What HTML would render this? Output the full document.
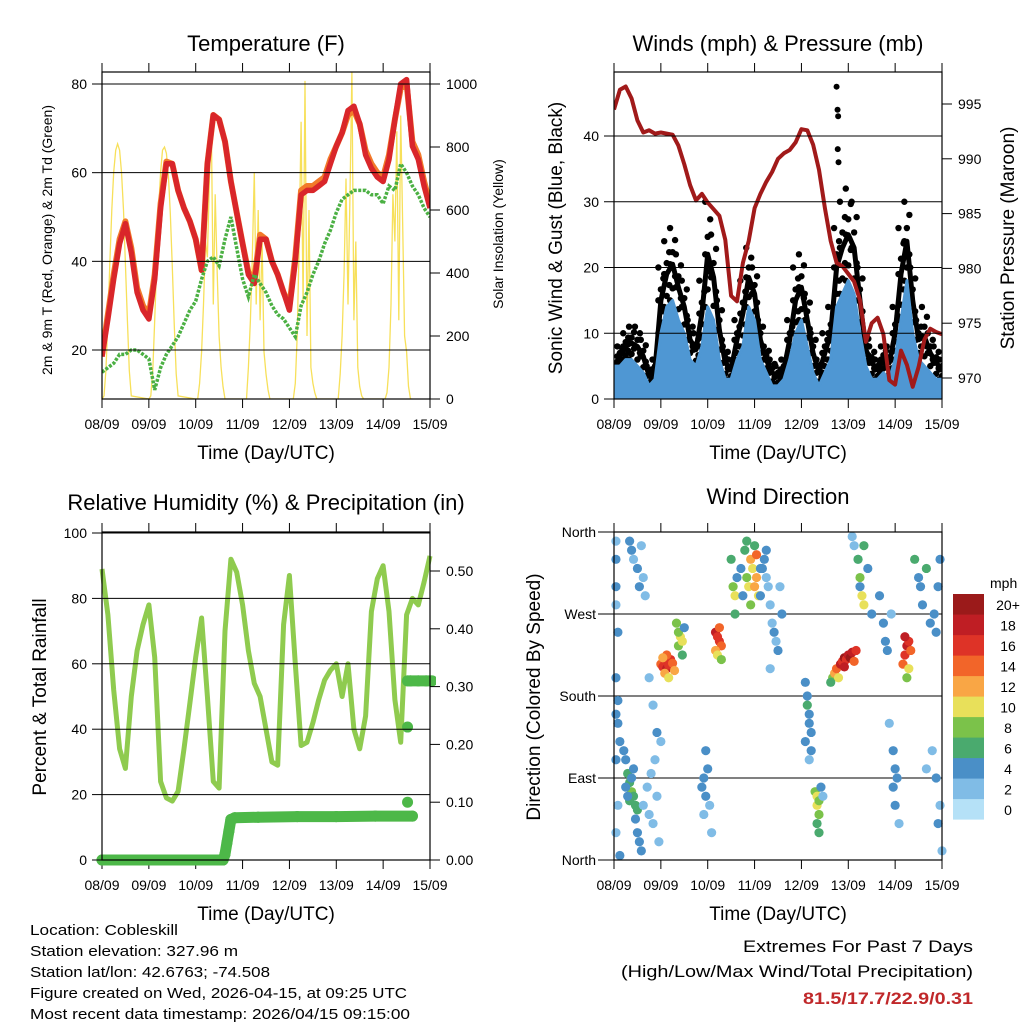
<!DOCTYPE html>
<html><head><meta charset="utf-8"><style>
html,body{margin:0;padding:0;background:#fff}
svg{display:block;font-family:"Liberation Sans",sans-serif}
</style></head><body>
<svg id="chart" width="1024" height="1024" viewBox="0 0 1024 1024"></svg>
<script>
// ---------- DATA ----------
const hours3 = [0,3,6,9,12,15,18,21,24,27,30,33,36,39,42,45,48,51,54,57,60,63,66,69,72,75,78,81,84,87,90,93,96,99,102,105,108,111,114,117,120,123,126,129,132,135,138,141,144,147,150,153,156,159,162,165,168];
const dayLabels = ["08/09","09/09","10/09","11/09","12/09","13/09","14/09","15/09"];
const temp2m = [18.5,27,36,44,48.5,42,33,29,27,36,52,62,62,56,52,49,45,38,62,73,72,67,58,51,44,37,35,45,45,40,37,33,29,40,55,56,56,57,58,62,66,69,74,75,71,64,61,59,58,63,72,80,81,66,63,57,52];
const temp9m = [19,28,37,45,49,43,34,30,28,37,53,62.5,62,56,52,49,45,38,62,73,72,67,58,51,44,37.5,36,46,45,40,37,33,30,41,56,57,57,58,59,63,66,69,73,74,71,65,62,60,59,64,72,79,80,67,64,58,53];
const dewPt = [15,16,17,19,19,20,20,19,18,11,16,19,21,23,26,29,31,36,40,41,39,45,50,43,36,32,37,35,33,30,28,27,25,23,30,33,37,40,44,47,51,54,55,56,56,56,55,55,53,57,56,62,60,57,55,52,50];
const solarDayShapes = [
 [0,10,90,250,430,600,720,790,810,790,720,600,430,250,90,10],
 [0,10,90,250,430,600,720,790,800,780,710,590,420,240,80,10],
 [0,0,50,150,300,500,450,700,880,300,650,400,200,100,40,0],
 [0,0,0,100,250,450,720,300,600,250,500,150,80,30,0,0],
 [0,0,0,50,200,500,880,300,1010,200,600,100,50,20,0,0],
 [0,0,80,200,400,700,300,650,1040,250,500,100,40,10,0,0],
 [0,0,20,100,300,650,500,850,250,900,550,200,150,40,0,0]
];
const pressure = [994.5,996.3,996.6,995.5,993.5,992.4,992.6,992.3,992.4,992.3,992.2,991.2,989.5,987.6,986.2,986.8,986,985.4,984.8,982.6,977.5,977,980.5,982.5,985.5,986.8,987.9,988.8,990,990.5,990.8,991.5,992.7,992.6,991.3,989,985.5,982.5,980.5,980.2,979.5,978.8,977.1,973.3,975,975.5,974,969.8,969.4,972.5,971.2,969.2,971,973.5,974.5,974.2,974];
const windSonic = [5,5,6,6,5,4,2,3,10,14,15,12,10,6,5,8,14,12,6,3,3,6,8,14,12,6,4,2,2,3,6,10,12,8,4,2,4,6,14,16,18,16,10,5,3,3,4,3,6,12,18,10,6,5,4,3,3];
const windGust = [5,8,10,11,11,9,5,6,20,24,26,22,18,12,10,18,30,25,15,8,6,12,18,23,20,12,8,6,5,6,12,20,22,16,10,6,10,14,26,30,32,30,20,10,8,6,8,8,14,26,30,20,12,14,10,8,6];
const gustOutlierHours = [114,114.5,114.8,114.6,115];
const gustOutlierVals = [47.5,44,43,38,36];
const rh = [89,75,52,34,28,50,64,72,78,62,24,19,18,21,34,48,62,74,50,24,22,70,92,88,78,64,54,50,40,30,29,72,87,60,35,36,42,49,55,58,60,50,60,40,34,44,76,86,90,76,49,36,75,80,78,85,93];
const precipHours = [0,20,40,60,62,63,64,65,66,68,80,100,120,140,159];
const precipVals = [0,0,0,0,0,0.01,0.03,0.05,0.07,0.073,0.074,0.075,0.075,0.076,0.076];
const precipLateHours = [156.5,156.5,156.5,158,162,166,169];
const precipLateVals = [0.10,0.23,0.31,0.31,0.31,0.31,0.31];
const wdHour = [1,1,1,1,2,1,2,1,2,3,1,2,1,3, 5,6,7,8,9,10,8,11,12,6,7,9,12,13,14,11,10, 8,10,12,13,9,14,15,16, 15,17,18,19,20,21,22,23,18,20,22,24,
 24,25,26,27,28,29,30,26,27,31,25,28, 33,34,35,33,35,36,32, 45,46,47,48,49,47,46,50, 52,53,54,55,52,54,53,55,
 60,61,62,62,63,65,66,67,68,69,70,71,72,73,74,70,72,73,75,75,68, 77,78,79,80,81,82,83,84,85,78,76,80,86,
 98,99,99,100,100,101,98,101,100, 103,104,104,105,105,104,106,107,105, 122,123,125,
 112,113,114,116,117,118,119,120,121,122,124,123,115,111,118, 125,126,127,128,126,130,132,128,
 136,138,139,140,142,143,144,145,143,144,146,141, 148,149,150,151,151,150,149,152,
 154,156,157,158,160,162,164,166,167,165,163,165,166,168,167,160];
const wdDir = [350,330,300,280,250,200,175,160,150,130,110,60,30,5, 120,110,95,85,75,70,65,60,55,80,70,90,30,20,10,45,100, 350,330,320,300,340,345,310,290, 60,80,50,95,40,110,70,20,200,170,140,130,
 215,212,218,210,214,220,216,205,225,208,222,200, 235,245,240,250,225,255,260, 80,90,70,100,60,120,50,30, 250,245,240,235,230,255,225,220,
 330,300,290,270,310,320,290,340,310,300,330,320,300,310,290,280,345,335,290,320,350, 330,310,300,280,260,250,240,230,300,340,320,210,270,
 195,180,170,160,150,140,130,120,110, 75,70,60,65,50,40,80,70,30, 355,345,330,
 200,205,210,215,218,222,220,225,222,228,230,218,200,195,212, 330,310,290,280,300,320,270,345,
 290,260,240,230,270,120,100,90,80,60,40,150, 215,225,235,240,210,200,245,230,
 330,310,300,280,320,260,270,300,330,250,120,90,40,10,60,100];
const wdSpd = [2,3,3,2,3,3,3,4,4,4,3,2,2,3, 4,4,5,6,7,6,5,6,6,4,4,4,3,3,4,4,3, 3,2,4,3,3,2,2,2, 2,1,1,2,2,1,1,1,2,1,3,2,
 14,16,15,18,16,15,14,12,13,12,11,10, 8,10,9,7,6,4,8, 4,4,3,3,2,4,2,2, 18,16,15,13,11,14,10,8,
 6,8,10,6,4,4,3,6,8,10,12,10,11,12,9,8,6,13,4,4,6, 3,2,2,2,2,3,2,3,2,3,4,2,3,
 4,4,6,4,4,4,3,3,2, 8,10,9,8,7,6,3,2,6, 1,2,2,
 8,12,14,18,16,20,16,18,20,17,16,14,10,6,18, 6,8,10,9,4,4,3,6,
 4,3,4,3,2,4,4,3,4,3,2,1, 14,16,18,15,10,8,17,14,
 6,3,4,4,6,4,3,4,3,4,2,4,4,2,2,2];
const speedColors = ["#b5e1f7","#80bce6","#4a8fc7","#4aaa6e","#7bc24a","#e8e05a","#f9a645","#f26529","#de3327","#bf1e24","#9b1a1a"];
const speedLabels = ["0","2","4","6","8","10","12","14","16","18","20+"];
const tempTicks=[20,40,60,80], solarTicks=[0,200,400,600,800,1000];
const windTicks=[0,10,20,30,40], presTicks=[970,975,980,985,990,995];
const rhTicks=[0,20,40,60,80,100], precipTicks=[0,0.1,0.2,0.3,0.4,0.5];
const dirTicks=[0,90,180,270,360], dirLabels=["North","East","South","West","North"];

// ---------- HELPERS ----------
const svg=document.getElementById('chart');
const NS="http://www.w3.org/2000/svg";
function mk(tag,attrs,parent){const e=document.createElementNS(NS,tag);for(const k in attrs)e.setAttribute(k,attrs[k]);(parent||svg).appendChild(e);return e;}
function txt(s,x,y,size,anchor,parent,extra){const t=mk('text',Object.assign({x:x,y:y,'font-size':size,'text-anchor':anchor||'middle',fill:'#000'},extra||{}),parent);t.textContent=s;return t;}
function lin(d0,d1,r0,r1){return v=>r0+(v-d0)*(r1-r0)/(d1-d0);}

function panel(name,L,T,R,B){
  const g=mk('g',{});
  
  
  const x=lin(0,168,L,R);
  for(let d=0;d<8;d++){
    const px=x(d*24);
    mk('line',{x1:px,y1:T,x2:px,y2:T-9,stroke:'#000','stroke-width':1},g);
    mk('line',{x1:px,y1:B,x2:px,y2:B+9,stroke:'#000','stroke-width':1},g);
    const t=txt(dayLabels[d],px,B+30,14,'middle',g);
    
    
  }
  return {g,x};
}
function frame(g,L,T,R,B){mk('rect',{x:L,y:T,width:R-L,height:B-T,fill:'none',stroke:'#000','stroke-width':1.2},g);}
function yAxis(g,ticks,labels,scale,L,R,side,grid){
  ticks.forEach((v,i)=>{
    const py=scale(v);
    if(grid) mk('line',{x1:L,x2:R,y1:py,y2:py,stroke:'#000','stroke-width':1},g);
    if(side==='left'){mk('line',{x1:L-10,x2:L,y1:py,y2:py,stroke:'#000'},g);
      const t=txt(labels[i],L-15,py+5,14,'end',g);}
    else {mk('line',{x1:R,x2:R+10,y1:py,y2:py,stroke:'#000'},g);
      const t=txt(labels[i],R+16,py+5,14,'start',g);}
  });
}
function path(pts){return pts.map((p,i)=>(i?'L':'M')+p[0].toFixed(1)+','+p[1].toFixed(1)).join('');}
function vtitle(s,x,y,size,g,name){const t=txt(s,x,y,size,'middle',g,{transform:`rotate(-90 ${x} ${y})`});return t;}
function title(s,x,y,g,name){const t=txt(s,x,y,22,'middle',g);}

// ---------- PANEL 1: TEMPERATURE ----------
(function(){
 const L=102,T=72,R=430,B=399;
 const {g,x}=panel('temperature-panel',L,T,R,B);
 const yT=lin(20,80,350,84), yS=lin(0,1000,399,84);
 const clip=mk('clipPath',{id:'c1'},g);mk('rect',{x:L,y:T,width:R-L,height:B-T},clip);
 const pg=mk('g',{'clip-path':'url(#c1)'},g);
 const sp=[];
 solarDayShapes.forEach((arr,d)=>arr.forEach((v,i)=>{const h=d*24+i;if(h<=168)sp.push([x(h),yS(v)]);}));
 const s=mk('path',{d:path(sp),fill:'none',stroke:'#f7e05a','stroke-width':1.3},pg);
 
 yAxis(g,tempTicks,tempTicks.map(String),yT,L,R,'left',true);
 const o=mk('path',{d:path(hours3.map((h,i)=>[x(h),yT(temp9m[i])])),fill:'none',stroke:'#f27a2a','stroke-width':6,'stroke-linejoin':'round'},pg);
 
 const r=mk('path',{d:path(hours3.map((h,i)=>[x(h),yT(temp2m[i])])),fill:'none',stroke:'#d9262a','stroke-width':5.5,'stroke-linejoin':'round'},pg);
 
 const dg=mk('path',{d:path(hours3.map((h,i)=>[x(h),yT(dewPt[i])])),fill:'none',stroke:'#4bb043','stroke-width':3.5,'stroke-dasharray':'3 1.5'},pg);
 
 yAxis(g,solarTicks,solarTicks.map(String),yS,L,R,'right',false);
 frame(g,L,T,R,B);
 title('Temperature (F)',266,51,g,'temperature-title');
 vtitle('2m & 9m T (Red, Orange) & 2m Td (Green)',52,240,14,g,'temp-y-axis-title');
 vtitle('Solar Insolation (Yellow)',503,234,14,g,'solar-y-axis-title');
 const xt=txt('Time (Day/UTC)',266,459,19,'middle',g);
})();

// ---------- PANEL 2: WINDS ----------
(function(){
 const L=614,T=72,R=942,B=399;
 const {g,x}=panel('winds-panel',L,T,R,B);
 const yW=lin(0,40,399,136), yP=lin(970,995,378,104);
 const clip=mk('clipPath',{id:'c2'},g);mk('rect',{x:L,y:T,width:R-L,height:B-T},clip);
 const pg=mk('g',{'clip-path':'url(#c2)'},g);
 yAxis(g,windTicks,windTicks.map(String),yW,L,R,'left',true);
 hours3.forEach((h,i)=>{
   const lo=windSonic[i], hi=windGust[i];
   for(let k=0;k<=6;k++){
     const v=lo+(hi-lo)*k/6;
     const c=mk('circle',{cx:x(h)+((k%3)-1)*2.5,cy:yW(v),r:3.2,fill:'#000'},pg);
     
   }
 });
 gustOutlierHours.forEach((h,i)=>{const c=mk('circle',{cx:x(h),cy:yW(gustOutlierVals[i]),r:3,fill:'#000'},pg);});
 const gl=mk('path',{d:path(hours3.map((h,i)=>[x(h),yW((windGust[i]+windSonic[i])/2)])),fill:'none',stroke:'#000','stroke-width':5,'stroke-linejoin':'round'},pg);
 
 const pts=hours3.map((h,i)=>[x(h),yW(windSonic[i])]);
 const area=path(pts)+`L${x(168)},${yW(0)}L${x(0)},${yW(0)}Z`;
 const a=mk('path',{d:area,fill:'#4f97d3',stroke:'#4f97d3','stroke-width':3,'stroke-linejoin':'round'},pg);
 
 const p=mk('path',{d:path(hours3.map((h,i)=>[x(h),yP(pressure[i])])),fill:'none',stroke:'#a11a1a','stroke-width':4,'stroke-linejoin':'round'},pg);
 
 yAxis(g,presTicks,presTicks.map(String),yP,L,R,'right',false);
 frame(g,L,T,R,B);
 title('Winds (mph) & Pressure (mb)',778,51,g,'winds-title');
 vtitle('Sonic Wind & Gust (Blue, Black)',562,238,19,g,'wind-y-axis-title');
 vtitle('Station Pressure (Maroon)',1014,238,19,g,'pressure-y-axis-title');
 const xt=txt('Time (Day/UTC)',778,459,19,'middle',g);
})();

// ---------- PANEL 3: RH & PRECIP ----------
(function(){
 const L=102,T=532,R=430,B=860;
 const {g,x}=panel('humidity-panel',L,T,R,B);
 const yR=lin(0,100,860,533), yQ=lin(0,0.5,860,571);
 const clip=mk('clipPath',{id:'c3'},g);mk('rect',{x:L-6,y:T,width:R-L+12,height:B-T+6},clip);
 const pg=mk('g',{'clip-path':'url(#c3)'},g);
 yAxis(g,rhTicks,rhTicks.map(String),yR,L,R,'left',true);
 const r=mk('path',{d:path(hours3.map((h,i)=>[x(h),yR(rh[i])])),fill:'none',stroke:'#8fcb4f','stroke-width':5,'stroke-linejoin':'round'},pg);
 
 function pseries(hs,vs,name){
   for(let i=1;i<hs.length;i++){ if(Math.abs(vs[i]-vs[i-1])<0.05){
     const l=mk('line',{x1:x(hs[i-1]),y1:yQ(vs[i-1]),x2:x(hs[i]),y2:yQ(vs[i]),stroke:'#4db848','stroke-width':11,'stroke-linecap':'round'},pg);
     }}
   hs.forEach((h,i)=>{const c=mk('circle',{cx:x(h),cy:yQ(vs[i]),r:5.5,fill:'#4db848'},pg);});
 }
 pseries(precipHours,precipVals,'precip-line');
 pseries(precipLateHours,precipLateVals,'precip-late-line');
 yAxis(g,precipTicks,precipTicks.map(v=>v.toFixed(2)),yQ,L,R,'right',false);
 frame(g,L,T,R,B);
 title('Relative Humidity (%) & Precipitation (in)',266,510,g,'humidity-title');
 vtitle('Percent & Total Rainfall',46,697,19,g,'rh-y-axis-title');
 const xt=txt('Time (Day/UTC)',266,920,19,'middle',g);
})();

// ---------- PANEL 4: WIND DIRECTION ----------
(function(){
 const L=614,T=532,R=942,B=860;
 const {g,x}=panel('wind-direction-panel',L,T,R,B);
 const yD=lin(0,360,860,532);
 dirTicks.forEach((v,i)=>{const py=yD(v);
   if(i>0&&i<4) mk('line',{x1:L,x2:R,y1:py,y2:py,stroke:'#000'},g);
   mk('line',{x1:L-16,x2:L,y1:py,y2:py,stroke:'#000'},g);
   const t=txt(dirLabels[i],L-18,py+5,14,'end',g);});
 wdHour.forEach((h,i)=>{
   const idx=Math.min(10,Math.floor((wdSpd[i]+1)/2));
   const c=mk('circle',{cx:x(h),cy:yD(wdDir[i]),r:4.6,fill:speedColors[idx]},g);
   
 });
 frame(g,L,T,R,B);
 const lg=mk('g',{},g);
 
 txt('mph',990,588,14,'start',lg);
 for(let k=0;k<11;k++){
   const yy=594+(10-k)*20.5;
   const rr=mk('rect',{x:953,y:yy,width:31,height:20.6,fill:speedColors[k]},lg);
   
   const t=txt(speedLabels[k],1008,yy+16,14,'middle',lg);
   
 }
 title('Wind Direction',778,504,g,'wind-direction-title');
 vtitle('Direction (Colored By Speed)',540,697,19,g,'direction-y-axis-title');
 const xt=txt('Time (Day/UTC)',778,920,19,'middle',g);
})();

// ---------- FOOTER ----------
const info=["Location: Cobleskill","Station elevation: 327.96 m","Station lat/lon: 42.6763; -74.508","Figure created on Wed, 2026-04-15, at 09:25 UTC","Most recent data timestamp: 2026/04/15 09:15:00"];
const infoW=[148,208,240,377,380];
info.forEach((s,i)=>{const t=txt(s,30,935+i*21,15,'start',null,{textLength:infoW[i],lengthAdjust:'spacingAndGlyphs'});
 });
const e1=txt('Extremes For Past 7 Days',973,952,17,'end',null,{textLength:230,lengthAdjust:'spacingAndGlyphs'});

const e2=txt('(High/Low/Max Wind/Total Precipitation)',973,977,17,'end',null,{textLength:352,lengthAdjust:'spacingAndGlyphs'});

const e3=txt('81.5/17.7/22.9/0.31',973,1004,17,'end',null,{fill:'#c0282a','font-weight':'bold',textLength:170,lengthAdjust:'spacingAndGlyphs'});

</script>
</body></html>
